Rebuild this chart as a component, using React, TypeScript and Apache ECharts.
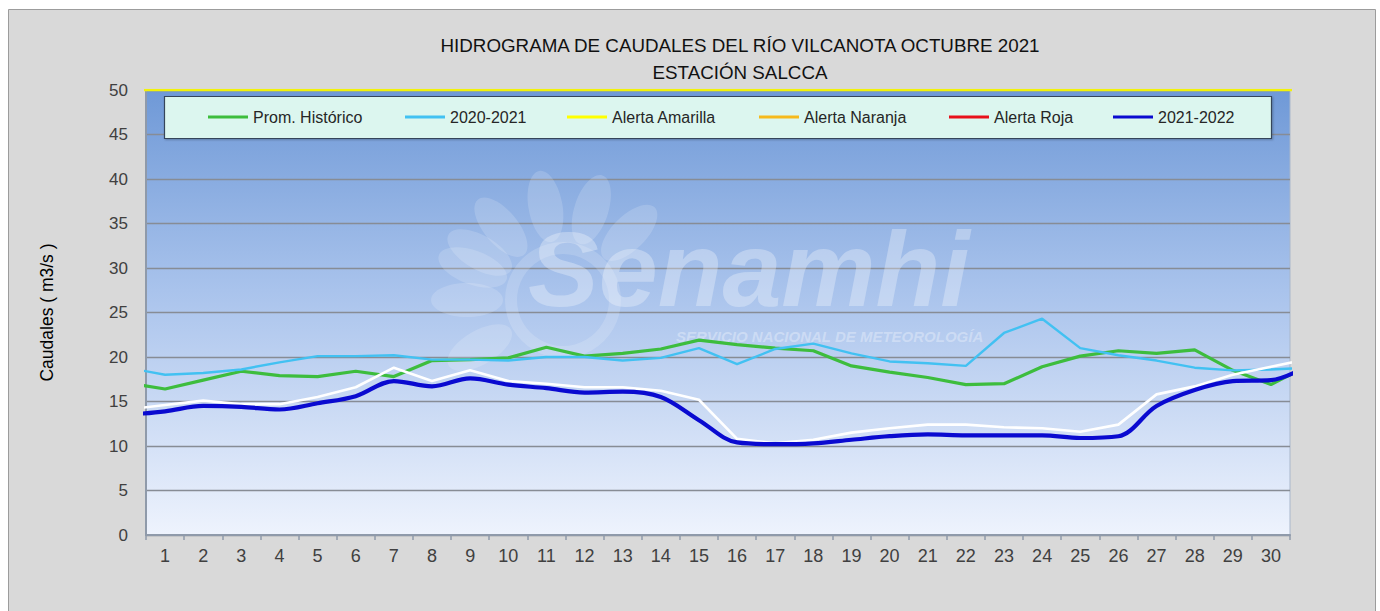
import React, { useEffect, useRef } from "react";
import * as echarts from "echarts";

// ---- DATA ----
const dayLabels = ["1","2","3","4","5","6","7","8","9","10","11","12","13","14","15","16","17","18","19","20","21","22","23","24","25","26","27","28","29","30"];
// day positions of the series points (0 = last day of previous month, 31 = first day of next month; they are clipped at the plot edges)
const dayPositions = [0,1,2,3,4,5,6,7,8,9,10,11,12,13,14,15,16,17,18,19,20,21,22,23,24,25,26,27,28,29,30,31];

const promHistorico = [17.1,16.4,17.4,18.4,17.9,17.8,18.4,17.8,19.6,19.7,19.9,21.1,20.1,20.4,20.9,21.9,21.4,21.0,20.7,19.0,18.3,17.7,16.9,17.0,18.9,20.1,20.7,20.4,20.8,18.5,16.9,19.1];
const serie2020_2021 = [18.8,18.0,18.2,18.6,19.4,20.1,20.1,20.2,19.7,19.7,19.6,20.0,20.0,19.6,19.9,21.0,19.2,20.9,21.5,20.4,19.5,19.3,19.0,22.7,24.3,21.0,20.2,19.6,18.8,18.5,18.6,18.8];
const serieBlanca = [14.1,14.6,15.1,14.7,14.7,15.5,16.6,18.8,17.3,18.5,17.3,17.0,16.6,16.6,16.2,15.2,10.8,10.3,10.7,11.5,12.0,12.4,12.4,12.1,12.0,11.6,12.4,15.8,16.7,18.0,18.9,19.8];
const serie2021_2022 = [13.5,13.9,14.5,14.4,14.1,14.8,15.6,17.3,16.7,17.6,16.9,16.5,16.0,16.1,15.5,12.9,10.4,10.2,10.3,10.7,11.1,11.3,11.2,11.2,11.2,10.9,11.1,14.5,16.3,17.3,17.4,19.1];
const alertaAmarilla = 50;
const alertaNaranja = 55;
const alertaRoja = 60;

const yTicks = { min: 0, max: 50, interval: 5 };

const FONT = "'Liberation Sans', Arial, sans-serif";

function pairs(vals: number[]) {
  return dayPositions.map((d, i) => [d, vals[i]]);
}
function flat(v: number) {
  return [[dayPositions[0], v], [dayPositions[dayPositions.length - 1], v]];
}

const legendItems = [
  { name: "Prom. Histórico", left: 208 },
  { name: "2020-2021", left: 405 },
  { name: "Alerta Amarilla", left: 567 },
  { name: "Alerta Naranja", left: 759 },
  { name: "Alerta Roja", left: 949 },
  { name: "2021-2022", left: 1113 },
];

export default function App() {
  const ref = useRef<HTMLDivElement>(null);
  useEffect(() => {
    if (!ref.current) return;
    const chart = echarts.init(ref.current, undefined, { renderer: "svg" });

    const petals: any[] = [];
    const cx = 562, cy = 300;
    const angles = [-160, -130, -100, -72, -45, 150, 180, 210];
    angles.forEach((a) => {
      const r = (a * Math.PI) / 180;
      petals.push({
        type: "ellipse",
        z: 1,
        silent: true,
        x: cx + Math.cos(r) * 95,
        y: cy + Math.sin(r) * 95,
        rotation: -r + Math.PI / 2,
        shape: { cx: 0, cy: 0, rx: 17, ry: 36 },
        style: { fill: "rgba(255,255,255,0.16)" },
      });
    });

    const option: any = {
      animation: false,
      backgroundColor: "#ffffff",
      grid: {
        left: 146,
        top: 90,
        width: 1144,
        height: 445,
        show: true,
        backgroundColor: new echarts.graphic.LinearGradient(0, 0, 0, 1, [
          { offset: 0, color: "#6f99d7" },
          { offset: 0.45, color: "#a9c3ec" },
          { offset: 1, color: "#eef3fd" },
        ]),
        borderColor: "#a9b7cb",
        borderWidth: 1,
      },
      xAxis: [
        {
          type: "category",
          data: dayLabels,
          boundaryGap: true,
          axisLine: { lineStyle: { color: "#8f9aaa", width: 2 } },
          axisTick: { show: true, length: 5, lineStyle: { color: "#8f9aaa", width: 1.5 } },
          axisLabel: { color: "#404040", fontSize: 18, margin: 12, fontFamily: FONT },
          splitLine: { show: false },
        },
        { type: "value", min: 0.5, max: 30.5, show: false },
      ],
      yAxis: {
        type: "value",
        min: yTicks.min,
        max: yTicks.max,
        interval: yTicks.interval,
        name: "Caudales ( m3/s )",
        nameLocation: "middle",
        nameGap: 90,
        nameTextStyle: { fontSize: 17.5, color: "#000000", fontFamily: FONT },
        axisLine: { show: true, lineStyle: { color: "#8f9aaa", width: 2 } },
        axisTick: { show: false },
        axisLabel: { color: "#404040", fontSize: 17, margin: 18, fontFamily: FONT },
        splitLine: { lineStyle: { color: "#878c95", width: 1.3 } },
      },
      legend: legendItems.map((it) => ({
        data: [it.name],
        left: it.left,
        top: 108,
        padding: 0,
        icon: "rect",
        itemWidth: 40,
        itemHeight: 3,
        z: 6,
        selectedMode: false,
        textStyle: { fontSize: 16, color: "#262626", fontFamily: FONT, lineHeight: 18 },
      })),
      graphic: [
        {
          type: "rect",
          z: -10,
          silent: true,
          shape: { x: 8.5, y: 9.5, width: 1367, height: 640 },
          style: { fill: "#d9d9d9", stroke: "#9c9c9c", lineWidth: 1 },
        },
        {
          type: "text",
          z: 5,
          x: 740,
          y: 45,
          style: {
            text: "HIDROGRAMA DE CAUDALES DEL RÍO VILCANOTA OCTUBRE 2021",
            textAlign: "center",
            textVerticalAlign: "middle",
            fontSize: 18.8,
            fontFamily: FONT,
            fill: "#111111",
          },
        },
        {
          type: "text",
          z: 5,
          x: 740,
          y: 72,
          style: {
            text: "ESTACIÓN SALCCA",
            textAlign: "center",
            textVerticalAlign: "middle",
            fontSize: 18.8,
            fontFamily: FONT,
            fill: "#111111",
          },
        },
        ...petals,
        {
          type: "ring",
          z: 1,
          silent: true,
          shape: { cx: 563, cy: 300, r: 58, r0: 46 },
          style: { fill: "rgba(255,255,255,0.16)" },
        },
        {
          type: "text",
          z: 1,
          silent: true,
          x: 528,
          y: 322,
          style: {
            text: "Senamhi",
            fontSize: 106,
            fontStyle: "italic",
            fontWeight: "bold",
            fontFamily: FONT,
            fill: "rgba(255,255,255,0.3)",
            textVerticalAlign: "bottom",
          },
        },
        {
          type: "text",
          z: 1,
          silent: true,
          x: 676,
          y: 336,
          style: {
            text: "SERVICIO NACIONAL DE METEOROLOGÍA",
            fontSize: 15,
            fontStyle: "italic",
            fontWeight: "bold",
            fontFamily: FONT,
            fill: "rgba(255,255,255,0.32)",
            textVerticalAlign: "middle",
          },
        },
        {
          type: "rect",
          z: 3,
          silent: true,
          shape: { x: 164.5, y: 96.5, width: 1107, height: 42 },
          style: {
            fill: "#dcf6ef",
            stroke: "#34455a",
            lineWidth: 1.2,
            shadowColor: "rgba(0,0,0,0.25)",
            shadowBlur: 2,
            shadowOffsetX: 1,
            shadowOffsetY: 1,
          },
        },
      ],
      series: [
        {
          name: "Prom. Histórico",
          type: "line",
          xAxisIndex: 1,
          data: pairs(promHistorico),
          showSymbol: false,
          symbol: "none",
          lineStyle: { color: "#3dbd3d", width: 3.2 },
          itemStyle: { color: "#3dbd3d" },
          z: 3,
        },
        {
          name: "2020-2021",
          type: "line",
          xAxisIndex: 1,
          data: pairs(serie2020_2021),
          showSymbol: false,
          symbol: "none",
          lineStyle: { color: "#42c1f2", width: 2.4 },
          itemStyle: { color: "#42c1f2" },
          z: 3,
        },
        {
          name: "Alerta Amarilla",
          type: "line",
          xAxisIndex: 1,
          data: flat(alertaAmarilla),
          showSymbol: false,
          symbol: "none",
          lineStyle: { color: "#f2f20a", width: 2.5 },
          itemStyle: { color: "#ffff00" },
          z: 3,
        },
        {
          name: "Alerta Naranja",
          type: "line",
          xAxisIndex: 1,
          data: flat(alertaNaranja),
          showSymbol: false,
          symbol: "none",
          lineStyle: { color: "#f6b91c", width: 3 },
          itemStyle: { color: "#f6b91c" },
          z: 3,
        },
        {
          name: "Alerta Roja",
          type: "line",
          xAxisIndex: 1,
          data: flat(alertaRoja),
          showSymbol: false,
          symbol: "none",
          lineStyle: { color: "#e8101a", width: 3 },
          itemStyle: { color: "#e8101a" },
          z: 3,
        },
        {
          name: "Referencia",
          type: "line",
          xAxisIndex: 1,
          data: pairs(serieBlanca),
          showSymbol: false,
          symbol: "none",
          lineStyle: { color: "#ffffff", width: 2.6 },
          itemStyle: { color: "#ffffff" },
          z: 3,
        },
        {
          name: "2021-2022",
          type: "line",
          xAxisIndex: 1,
          data: pairs(serie2021_2022),
          showSymbol: false,
          symbol: "none",
          smooth: 0.35,
          lineStyle: { color: "#0a0ad0", width: 4.2 },
          itemStyle: { color: "#0a0ad0" },
          z: 4,
        },
      ],
    };
    chart.setOption(option);
    return () => chart.dispose();
  }, []);
  return (
    <div
      ref={ref}
      style={{ position: "fixed", left: 0, top: 0, width: 1380, height: 611 }}
    />
  );
}
